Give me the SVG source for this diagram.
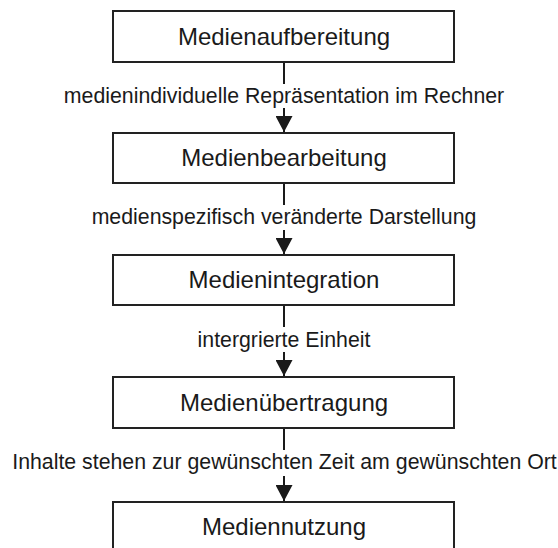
<svg xmlns="http://www.w3.org/2000/svg" width="558" height="548" viewBox="0 0 558 548">
  <defs>
    <marker id="arrow" viewBox="0 0 16 17" refX="16" refY="8.5" markerWidth="16" markerHeight="17" markerUnits="userSpaceOnUse" orient="auto">
      <path d="M0,0 L16,8.5 L0,17 Z" fill="#1a1a1a"/>
    </marker>
  </defs>
  <style>
    .box { fill: #ffffff; stroke: #222222; stroke-width: 2; }
    .title { font-family: "Liberation Sans", Arial, sans-serif; font-size: 24px; fill: #1a1a1a; text-anchor: middle; }
    .label { font-family: "Liberation Sans", Arial, sans-serif; font-size: 21.3px; fill: #1a1a1a; text-anchor: middle; }
    .line { stroke: #1a1a1a; stroke-width: 2; fill: none; }
  </style>
  <rect width="558" height="548" fill="#ffffff"/>

  <!-- vertical flow: a stub below each box, then the label, then an arrow into the next box -->
  <g id="connectors">
    <line class="line" x1="284" y1="62" x2="284" y2="84"/>
    <line class="line" x1="284" y1="108" x2="284" y2="132" marker-end="url(#arrow)"/>
    <line class="line" x1="284" y1="183" x2="284" y2="205"/>
    <line class="line" x1="284" y1="230" x2="284" y2="254" marker-end="url(#arrow)"/>
    <line class="line" x1="284" y1="305" x2="284" y2="327"/>
    <line class="line" x1="284" y1="352" x2="284" y2="376" marker-end="url(#arrow)"/>
    <line class="line" x1="284" y1="428" x2="284" y2="450"/>
    <line class="line" x1="284" y1="476" x2="284" y2="501" marker-end="url(#arrow)"/>
  </g>

  <g id="labels">
    <text class="label" x="284" y="103">medienindividuelle Repräsentation im Rechner</text>
    <text class="label" x="284" y="224">medienspezifisch veränderte Darstellung</text>
    <text class="label" x="284" y="347">intergrierte Einheit</text>
    <text class="label" x="284.5" y="469">Inhalte stehen zur gewünschten Zeit am gewünschten Ort</text>
  </g>

  <g id="medienaufbereitung">
    <rect class="box" x="113" y="11" width="341" height="51"/>
    <text class="title" x="284" y="45">Medienaufbereitung</text>
  </g>
  <g id="medienbearbeitung">
    <rect class="box" x="113" y="133" width="341" height="50"/>
    <text class="title" x="284" y="166">Medienbearbeitung</text>
  </g>
  <g id="medienintegration">
    <rect class="box" x="113" y="255" width="341" height="50"/>
    <text class="title" x="284" y="288">Medienintegration</text>
  </g>
  <g id="medienuebertragung">
    <rect class="box" x="113" y="377" width="341" height="51"/>
    <text class="title" x="284" y="411">Medienübertragung</text>
  </g>
  <g id="mediennutzung">
    <rect class="box" x="113" y="502" width="341" height="60"/>
    <text class="title" x="284" y="535">Mediennutzung</text>
  </g>
</svg>
